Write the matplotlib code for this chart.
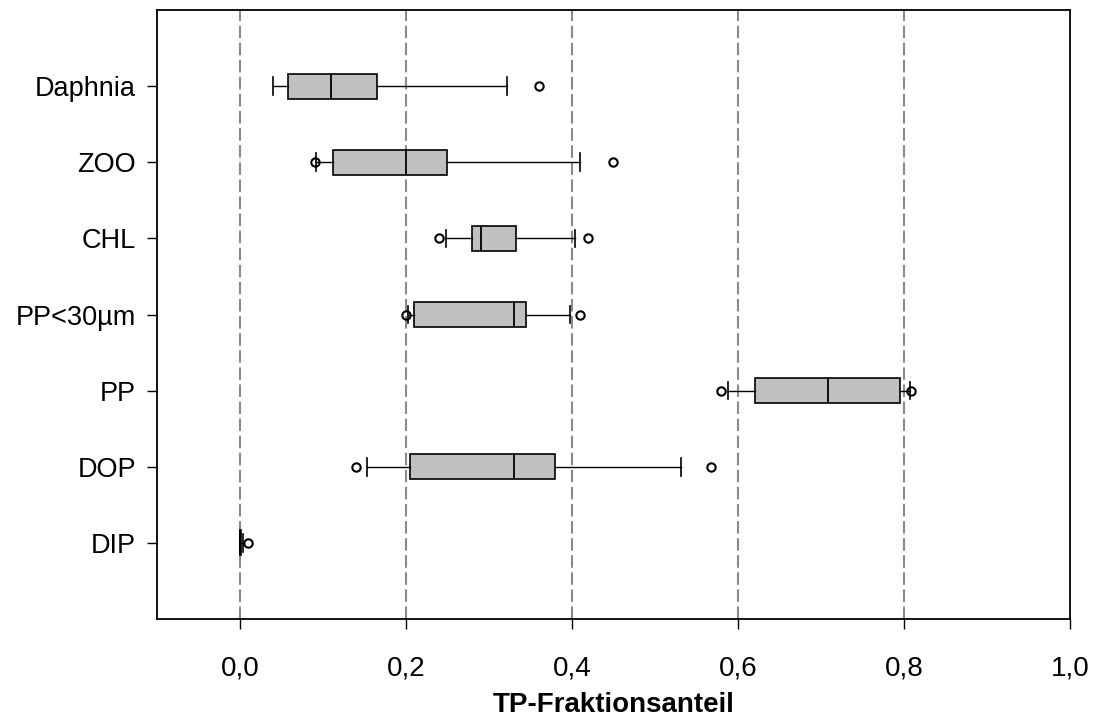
import matplotlib
matplotlib.use("Agg")
import matplotlib.pyplot as plt

# Fractions of total phosphorus per pool (five-number summaries + outliers)
categories = ["Daphnia", "ZOO", "CHL", "PP<30µm", "PP", "DOP", "DIP"]
whisker_low = [0.040, 0.092, 0.248, 0.202, 0.588, 0.153, 0.000]
q1 = [0.0575, 0.112, 0.280, 0.210, 0.620, 0.205, 0.000]
median = [0.110, 0.200, 0.290, 0.330, 0.709, 0.330, 0.000]
q3 = [0.165, 0.250, 0.3325, 0.345, 0.795, 0.380, 0.001]
whisker_high = [0.322, 0.410, 0.404, 0.398, 0.807, 0.531, 0.004]
outliers = [[0.360], [0.090, 0.450], [0.240, 0.419], [0.200, 0.410],
            [0.580, 0.809], [0.140, 0.568], [0.010]]

x_ticks = [0.0, 0.2, 0.4, 0.6, 0.8, 1.0]
x_tick_labels = ["0,0", "0,2", "0,4", "0,6", "0,8", "1,0"]
grid_lines = [0.0, 0.2, 0.4, 0.6, 0.8]

plt.rcParams["font.family"] = ["Liberation Sans", "DejaVu Sans"]

fig = plt.figure(figsize=(10.96, 7.24), dpi=100)
ax = fig.add_axes([0.1432, 0.145, 0.8331, 0.8412])

n = len(categories)
positions = list(range(n, 0, -1))

stats = []
for i, name in enumerate(categories):
    stats.append(dict(label=name, whislo=whisker_low[i], q1=q1[i], med=median[i],
                      q3=q3[i], whishi=whisker_high[i], fliers=outliers[i]))

for g in grid_lines:
    ax.axvline(g, color="#8a8a8a", lw=1.5, dashes=(6, 2.2), zorder=0)

ax.bxp(stats, positions=positions, vert=False, widths=0.33, patch_artist=True,
       showfliers=True,
       boxprops=dict(facecolor="#c0c0c0", edgecolor="black", linewidth=1.2),
       medianprops=dict(color="black", linewidth=1.3),
       whiskerprops=dict(color="black", linewidth=1.0),
       capprops=dict(color="black", linewidth=1.2),
       capwidths=0.23,
       flierprops=dict(marker="o", markersize=6, markerfacecolor="none",
                       markeredgecolor="black", markeredgewidth=1.5))

ax.set_xlim(-0.1, 1.0)
ax.set_ylim(0, n + 1)
ax.set_yticks(positions)
ax.set_yticklabels(categories, fontsize=19.5)
ax.set_xticks(x_ticks)
ax.set_xticklabels(x_tick_labels, fontsize=20)
ax.tick_params(axis="both", direction="out", length=7, width=1.0, color="black")
ax.tick_params(axis="x", pad=19)
ax.tick_params(axis="y", pad=8)
for s in ax.spines.values():
    s.set_linewidth(1.3)

ax.set_xlabel("TP-Fraktionsanteil", fontsize=20, fontweight="bold", labelpad=8)

fig.savefig("out.png", dpi=100)
